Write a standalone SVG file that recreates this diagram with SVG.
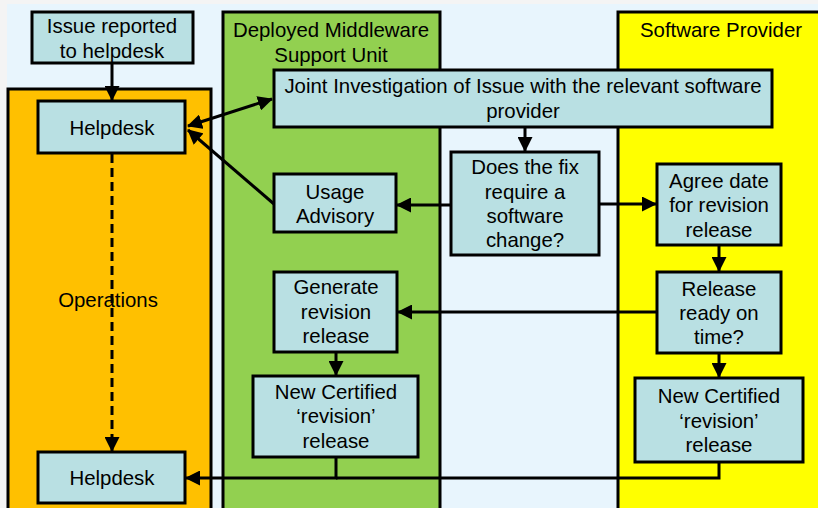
<svg xmlns="http://www.w3.org/2000/svg" width="818" height="508" viewBox="0 0 818 508">
<defs>
<marker id="arr" markerWidth="15" markerHeight="15" refX="14" refY="7.5" orient="auto-start-reverse" markerUnits="userSpaceOnUse">
<path d="M0,0 L15,7.5 L0,15 Z" fill="#000"/>
</marker>
<style>
.lane{stroke:#000;stroke-width:3}
.box{fill:#B9E0E3;stroke:#000;stroke-width:3}
text{font-family:"Liberation Sans",Arial,sans-serif;font-size:20.4px;fill:#000;text-anchor:middle}
.c{fill:none;stroke:#000;stroke-width:3}
</style>
</defs>
<rect x="0" y="0" width="818" height="508" fill="#F4F4F4"/>
<rect x="7" y="4" width="811" height="504" fill="#E8F5FD"/>
<g id="lane-operations">
<rect class="lane" x="8" y="89" width="203" height="425" fill="#FFC000"/>
<text x="108" y="307">Operations</text>
</g>
<g id="lane-dmsu">
<rect class="lane" x="223" y="12" width="217" height="502" fill="#92D050"/>
<text x="331" y="37">Deployed Middleware</text>
<text x="331" y="62">Support Unit</text>
</g>
<g id="lane-provider">
<rect class="lane" x="618" y="12" width="210" height="502" fill="#FFFF00"/>
<text x="721" y="37">Software Provider</text>
</g>
<g id="connectors">
<line class="c" x1="112" y1="63" x2="112" y2="100" marker-end="url(#arr)"/>
<line class="c" x1="188" y1="126" x2="272" y2="99" marker-start="url(#arr)" marker-end="url(#arr)"/>
<line class="c" x1="274" y1="204" x2="188" y2="130" marker-end="url(#arr)"/>
<line class="c" x1="112" y1="154" x2="112" y2="451" stroke-dasharray="9,5" marker-end="url(#arr)"/>
<line class="c" x1="525" y1="127" x2="525" y2="151" marker-end="url(#arr)"/>
<line class="c" x1="451" y1="205" x2="397" y2="205" marker-end="url(#arr)"/>
<line class="c" x1="599" y1="204" x2="656" y2="204" marker-end="url(#arr)"/>
<line class="c" x1="719" y1="245" x2="719" y2="271" marker-end="url(#arr)"/>
<line class="c" x1="657" y1="312" x2="398" y2="312" marker-end="url(#arr)"/>
<line class="c" x1="719" y1="353" x2="719" y2="377" marker-end="url(#arr)"/>
<line class="c" x1="336" y1="352" x2="336" y2="375" marker-end="url(#arr)"/>
<polyline class="c" points="719,462 719,478 336,478"/>
<polyline class="c" points="336,457 336,478 186,478" marker-end="url(#arr)"/>
</g>
<g id="issue">
<rect class="box" x="32" y="12" width="161" height="51"/>
<text x="112" y="33">Issue reported</text>
<text x="112" y="58">to helpdesk</text>
</g>
<g id="helpdesk-top">
<rect class="box" x="38" y="101" width="147" height="52"/>
<text x="112" y="135">Helpdesk</text>
</g>
<g id="joint">
<rect class="box" x="274" y="70" width="498" height="57"/>
<text x="523" y="93">Joint Investigation of Issue with the relevant software</text>
<text x="523" y="118">provider</text>
</g>
<g id="usage">
<rect class="box" x="274" y="174" width="122" height="58"/>
<text x="335" y="199">Usage</text>
<text x="335" y="223">Advisory</text>
</g>
<g id="does-fix">
<rect class="box" x="451" y="152" width="148" height="103"/>
<text x="525" y="174">Does the fix</text>
<text x="525" y="199">require a</text>
<text x="525" y="223">software</text>
<text x="525" y="247">change?</text>
</g>
<g id="agree">
<rect class="box" x="657" y="164" width="124" height="81"/>
<text x="719" y="188">Agree date</text>
<text x="719" y="212">for revision</text>
<text x="719" y="237">release</text>
</g>
<g id="release-ready">
<rect class="box" x="657" y="272" width="124" height="81"/>
<text x="719" y="296">Release</text>
<text x="719" y="320">ready on</text>
<text x="719" y="344">time?</text>
</g>
<g id="new-cert-right">
<rect class="box" x="635" y="378" width="168" height="84"/>
<text x="719" y="403">New Certified</text>
<text x="719" y="428">‘revision’</text>
<text x="719" y="452">release</text>
</g>
<g id="generate">
<rect class="box" x="274" y="272" width="123" height="80"/>
<text x="336" y="294">Generate</text>
<text x="336" y="319">revision</text>
<text x="336" y="343">release</text>
</g>
<g id="new-cert-left">
<rect class="box" x="253" y="376" width="165" height="81"/>
<text x="336" y="399">New Certified</text>
<text x="336" y="423">‘revision’</text>
<text x="336" y="448">release</text>
</g>
<g id="helpdesk-bottom">
<rect class="box" x="38" y="452" width="147" height="51"/>
<text x="112" y="485">Helpdesk</text>
</g>
</svg>
